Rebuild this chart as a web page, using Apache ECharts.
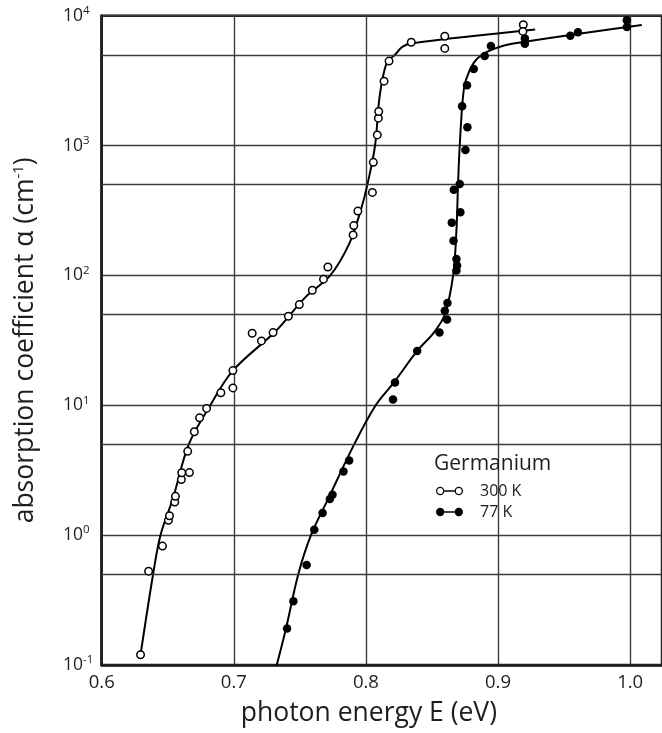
<!DOCTYPE html>
<html>
<head>
<meta charset="utf-8">
<script src="https://cdn.jsdelivr.net/npm/echarts@6/dist/echarts.min.js"></script>
<style>
  html, body { margin: 0; padding: 0; background: #fff; }
  #chart { width: 662px; height: 733px; }
</style>
</head>
<body>
<div id="chart"></div>
<script>
// Germanium optical absorption edge: photon energy (eV) vs absorption coefficient (cm^-1)
const points300K = [
  [0.6294, 0.120], [0.6355, 0.528], [0.6460, 0.824], [0.6505, 1.30], [0.6513, 1.41],
  [0.6553, 1.80], [0.6558, 1.99], [0.6603, 2.68], [0.6606, 3.02], [0.6664, 3.03],
  [0.6651, 4.42], [0.6701, 6.25], [0.6741, 8.0], [0.6794, 9.46], [0.6902, 12.5],
  [0.6993, 13.6], [0.6993, 18.5], [0.7139, 35.9], [0.7209, 31.3], [0.7297, 36.3],
  [0.7413, 48.5], [0.7496, 59.6], [0.7594, 76.9], [0.7679, 93.6], [0.7712, 116],
  [0.7903, 205], [0.7908, 242], [0.7939, 313], [0.8049, 436], [0.8056, 743],
  [0.8086, 1208], [0.8094, 1625], [0.8097, 1829], [0.8137, 3133], [0.8175, 4470],
  [0.8343, 6240], [0.8597, 6950], [0.8597, 5600], [0.9191, 8510], [0.9188, 7570]
];
const points77K = [
  [0.7403, 0.191], [0.7451, 0.310], [0.7551, 0.588], [0.7609, 1.10], [0.7672, 1.48],
  [0.7727, 1.90], [0.7747, 2.05], [0.7830, 3.09], [0.7873, 3.75], [0.8205, 11.1],
  [0.8220, 15.0], [0.8388, 26.2], [0.8557, 36.3], [0.8614, 45.8], [0.8597, 53.5],
  [0.8617, 61.2], [0.8685, 109], [0.8690, 119], [0.8685, 134], [0.8663, 185],
  [0.8650, 255], [0.8715, 306], [0.8665, 457], [0.8710, 506], [0.8753, 925],
  [0.8768, 1384], [0.8728, 2010], [0.8765, 2915], [0.8816, 3879], [0.8899, 4887],
  [0.8946, 5850], [0.9203, 6070], [0.9203, 6680], [0.9547, 7020], [0.9605, 7450],
  [0.9975, 8170], [0.9975, 9220]
];
// Smooth guide curves drawn through each data set
const curve300K = [
  [0.6294, 0.120], [0.6389, 0.5], [0.6445, 1.0], [0.6540, 1.93], [0.6659, 5.0],
  [0.6822, 10], [0.6993, 18.5], [0.7320, 37.5], [0.7541, 67.8], [0.7730, 100],
  [0.7873, 175], [0.7961, 318], [0.8011, 500], [0.8069, 1000], [0.8104, 2400],
  [0.8157, 4330], [0.8220, 5000], [0.8275, 5760], [0.8350, 6140], [0.9281, 7820]
];
const curve77K = [
  [0.7325, 0.1], [0.7395, 0.191], [0.7488, 0.5], [0.7584, 1.0], [0.7717, 1.93],
  [0.7911, 5.0], [0.8074, 10], [0.8212, 15.0], [0.8388, 26.2], [0.8514, 36.3],
  [0.8597, 50], [0.8660, 100], [0.8685, 222], [0.8697, 500], [0.8710, 1000],
  [0.8735, 2400], [0.8758, 3230], [0.8816, 4330], [0.8878, 5000], [0.8979, 5600],
  [0.9105, 6070], [1.0088, 8470]
];
// Extra horizontal rules at 5 x 10^n
const halfDecadeLines = [0.5, 5, 50, 500, 5000];
const energyRange = [0.6, 1.0241];
const alphaRange = [0.1, 10000];
const energyStep = 0.1;

const FONT = '"Open Sans", "Noto Sans", sans-serif';
const INK = '#1e1e1e';
const GRID = '#3c3c3c';

// icons for the legend: marker - line - marker
const openIcon = 'path://M0.5,5 A4.5,4.5 0 1 1 9.5,5 A4.5,4.5 0 1 1 0.5,5 Z M1.9,5 A3.1,3.1 0 1 0 8.1,5 A3.1,3.1 0 1 0 1.9,5 Z ' +
  'M9.5,4.3 L20.5,4.3 L20.5,5.7 L9.5,5.7 Z ' +
  'M20.5,5 A4.5,4.5 0 1 1 29.5,5 A4.5,4.5 0 1 1 20.5,5 Z M21.9,5 A3.1,3.1 0 1 0 28.1,5 A3.1,3.1 0 1 0 21.9,5 Z';
const filledIcon = 'path://M0.5,5 A4.5,4.5 0 1 1 9.5,5 A4.5,4.5 0 1 1 0.5,5 Z ' +
  'M9.5,4.3 L20.5,4.3 L20.5,5.7 L9.5,5.7 Z ' +
  'M20.5,5 A4.5,4.5 0 1 1 29.5,5 A4.5,4.5 0 1 1 20.5,5 Z';

const chart = echarts.init(document.getElementById('chart'), null, { renderer: 'canvas' });

chart.setOption({
  animation: false,
  backgroundColor: '#fff',
  textStyle: { fontFamily: FONT, color: INK },
  title: {
    text: 'Germanium',
    left: 434,
    top: 454,
    padding: 0,
    textStyle: { fontFamily: FONT, fontSize: 21, fontWeight: 'normal', color: INK }
  },
  legend: {
    orient: 'vertical',
    left: 436,
    top: 483,
    padding: 0,
    itemGap: 5,
    itemWidth: 27,
    itemHeight: 8.4,
    textStyle: { fontFamily: FONT, fontSize: 16, color: INK, padding: [0, 0, 0, 12] },
    data: [
      { name: '300 K', icon: openIcon, itemStyle: { color: '#000', borderWidth: 0 } },
      { name: '77 K', icon: filledIcon, itemStyle: { color: '#000', borderWidth: 0 } }
    ]
  },
  grid: {
    left: 101.7,
    right: -3,
    top: 15.7,
    bottom: 68,
    show: true,
    borderColor: INK,
    borderWidth: 2.5,
    backgroundColor: 'transparent'
  },
  xAxis: {
    type: 'value',
    min: energyRange[0],
    max: energyRange[1],
    interval: energyStep,
    name: 'photon energy E (eV)',
    nameLocation: 'middle',
    nameGap: 35,
    nameTextStyle: { fontFamily: FONT, fontSize: 26.5, color: INK, padding: [0, 26, 0, 0] },
    axisLine: { show: true, lineStyle: { color: INK, width: 2.5 } },
    axisTick: { show: false },
    axisLabel: {
      margin: 8,
      fontSize: 18.5,
      color: INK,
      fontFamily: FONT,
      showMaxLabel: false,
      formatter: v => v.toFixed(1)
    },
    splitLine: { show: true, lineStyle: { color: GRID, width: 1.4 } }
  },
  yAxis: {
    type: 'log',
    logBase: 10,
    min: alphaRange[0],
    max: alphaRange[1],
    name: 'absorption coefficient α (cm{s|-1})',
    nameLocation: 'middle',
    nameGap: 63,
    nameTextStyle: {
      fontFamily: FONT, fontSize: 26.5, color: INK,
      rich: {
        s: { fontFamily: FONT, fontSize: 15, color: INK, verticalAlign: 'top', lineHeight: 16 }
      }
    },
    axisLine: { show: true, lineStyle: { color: INK, width: 2.5 } },
    axisTick: { show: false },
    axisLabel: {
      margin: 38.7,
      align: 'left',
      color: INK,
      fontFamily: FONT,
      formatter: v => '{b|10}{s|' + Math.round(Math.log10(v)) + '}',
      rich: {
        b: { fontFamily: FONT, fontSize: 17.5, color: INK, lineHeight: 22 },
        s: { fontFamily: FONT, fontSize: 11.5, color: INK, lineHeight: 12, verticalAlign: 'top' }
      }
    },
    splitLine: { show: true, lineStyle: { color: GRID, width: 1.4 } }
  },
  series: [
    {
      name: 'rules',
      type: 'line',
      data: [],
      silent: true,
      markLine: {
        silent: true,
        symbol: 'none',
        label: { show: false },
        lineStyle: { color: GRID, width: 1.4, type: 'solid' },
        data: halfDecadeLines.map(v => ({ yAxis: v }))
      }
    },
    {
      name: 'curve 300 K',
      type: 'line',
      data: curve300K,
      showSymbol: false,
      smooth: 0.35,
      lineStyle: { color: '#000', width: 2 },
      z: 3
    },
    {
      name: 'curve 77 K',
      type: 'line',
      data: curve77K,
      showSymbol: false,
      smooth: 0.35,
      lineStyle: { color: '#000', width: 2 },
      z: 3
    },
    {
      name: '300 K',
      type: 'scatter',
      data: points300K,
      symbol: 'circle',
      symbolSize: 7.5,
      itemStyle: { color: '#fff', borderColor: '#000', borderWidth: 1.5, opacity: 1 },
      z: 5
    },
    {
      name: '77 K',
      type: 'scatter',
      data: points77K,
      symbol: 'circle',
      symbolSize: 8.5,
      itemStyle: { color: '#000', opacity: 1 },
      z: 5
    }
  ]
});
</script>
</body>
</html>
